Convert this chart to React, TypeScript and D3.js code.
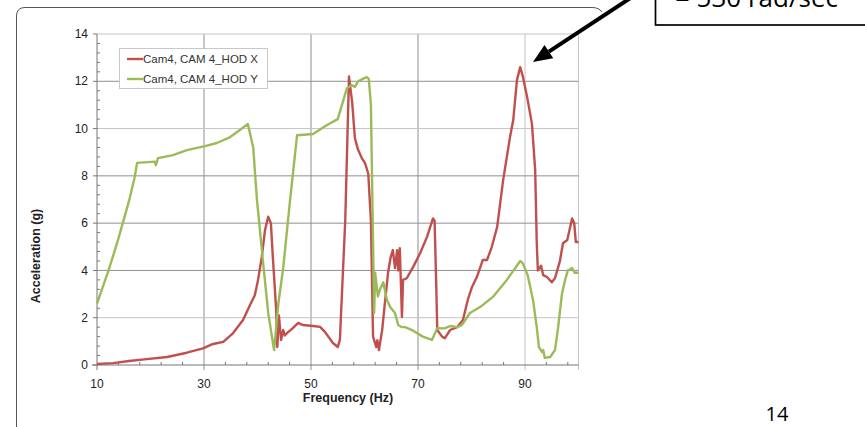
import React from 'react';
import * as d3 from 'd3';

// HOD X (red) - frequency (Hz) / acceleration (g)
const freqX = [10, 13, 16, 19.3, 23.1, 26.8, 29.8, 31.7, 33.6, 35.4, 37.3, 38.6, 39.5, 40.1, 40.8, 41.4, 42, 42.5, 42.9, 43.5, 43.7, 44, 44.4, 44.8, 45.1, 45.5, 46.6, 47.6, 48.5, 50.4, 51.7, 52.6, 54.1, 55, 55.4, 56, 56.4, 57.1, 57.7, 58.2, 58.8, 59.5, 60.1, 60.7, 61.2, 61.6, 62.2, 62.4, 62.7, 63.3, 63.8, 64.4, 64.9, 65.3, 65.7, 66.1, 66.3, 66.6, 67, 67.2, 67.9, 69.1, 70.4, 71.7, 72.8, 73.1, 73.4, 73.6, 74.5, 75, 76, 77.3, 78.4, 79.3, 80.1, 81, 82.1, 82.9, 83.8, 84.8, 85.9, 87.2, 87.8, 88.5, 89.1, 89.6, 90.4, 91.3, 91.9, 92.2, 92.4, 93, 93.4, 94.1, 95, 95.6, 96.5, 97.1, 97.9, 98.8, 99.2, 99.5, 100];
const accX = [0.04, 0.08, 0.17, 0.25, 0.34, 0.52, 0.7, 0.89, 0.98, 1.34, 1.9, 2.54, 2.95, 3.6, 4.57, 5.7, 6.27, 6.0, 4.44, 2.3, 0.76, 2.1, 1.06, 1.48, 1.25, 1.35, 1.56, 1.78, 1.69, 1.65, 1.61, 1.4, 0.93, 0.76, 1.06, 4.1, 6.1, 12.2, 11.1, 9.6, 9.1, 8.75, 8.54, 8.1, 6.1, 1.2, 0.76, 1.05, 0.63, 1.48, 2.6, 3.9, 4.57, 4.86, 4.1, 4.86, 4.0, 4.94, 2.03, 3.6, 3.67, 4.15, 4.73, 5.43, 6.2, 6.1, 3.46, 1.48, 1.2, 1.13, 1.48, 1.6, 1.9, 2.75, 3.3, 3.72, 4.44, 4.44, 5.0, 5.84, 7.8, 9.64, 10.36, 12.05, 12.6, 12.2, 11.33, 10.2, 8.25, 5.15, 4.0, 4.2, 3.8, 3.72, 3.5, 3.67, 4.37, 5.15, 5.29, 6.2, 6.0, 5.2, 5.2];

// HOD Y (green)
const freqY = [10, 11, 12, 13, 14, 15, 16, 17, 17.5, 20.8, 21, 21.4, 24.2, 26.8, 30.2, 32.4, 34.9, 36.7, 38.2, 39.2, 39.9, 41, 42, 43.1, 43.9, 44.8, 46.1, 47.4, 50.4, 53, 55, 56.7, 57.6, 58.2, 58.8, 59.7, 60.4, 60.8, 61.2, 61.8, 62, 62.5, 62.9, 63.5, 64.2, 64.8, 65.7, 66.3, 67, 67.6, 69.1, 70.9, 72.6, 73.2, 73.6, 75, 76, 77.3, 78.2, 79.7, 81.6, 84, 86.6, 87.8, 89.1, 89.6, 90.5, 91.5, 92.2, 92.6, 93.2, 93.4, 93.7, 94.7, 95.6, 96.2, 96.9, 97.5, 98, 98.8, 99.3, 100];
const accY = [2.6, 3.25, 3.9, 4.6, 5.35, 6.15, 6.95, 7.9, 8.55, 8.6, 8.45, 8.75, 8.88, 9.09, 9.26, 9.39, 9.64, 9.94, 10.19, 9.2, 6.98, 4.44, 2.2, 0.63, 2.6, 4.1, 7.0, 9.72, 9.77, 10.15, 10.4, 11.7, 11.84, 11.76, 12.0, 12.1, 12.18, 12.1, 11.0, 2.2, 3.9, 2.9, 3.2, 3.5, 2.75, 2.45, 2.2, 1.69, 1.6, 1.6, 1.45, 1.2, 1.06, 1.35, 1.56, 1.55, 1.65, 1.6, 1.69, 2.2, 2.45, 2.88, 3.6, 3.98, 4.4, 4.3, 3.8, 2.75, 1.6, 0.76, 0.55, 0.63, 0.3, 0.34, 0.63, 1.6, 3.0, 3.6, 4.0, 4.1, 3.9, 3.9];

const seriesNames = ['Cam4, CAM 4_HOD X', 'Cam4, CAM 4_HOD Y'];
const seriesColors = ['#c0504d', '#9bbb59'];
const xTicks = [10, 30, 50, 70, 90];
const yTicks = [0, 2, 4, 6, 8, 10, 12, 14];

const font = '"Liberation Sans", Arial, sans-serif';

const App = () => {
  const x = d3.scaleLinear().domain([10, 100]).range([97, 578.5]);
  const y = d3.scaleLinear().domain([0, 14]).range([365, 34]);

  const line = d3.line<[number, number]>()
    .x(d => x(d[0]))
    .y(d => y(d[1]));

  const series = [
    freqX.map((f, i) => [f, accX[i]] as [number, number]),
    freqY.map((f, i) => [f, accY[i]] as [number, number]),
  ];

  const xMinor = d3.range(10, 100.1, 4).filter(v => !xTicks.includes(v));
  const yMinor = d3.range(0, 14.01, 0.4).filter(v => Math.abs(v / 2 - Math.round(v / 2)) > 0.01);

  // arrow pointing at the 89 Hz peak
  const tail = [632, -3], tip = [533, 62];
  const dx = tip[0] - tail[0], dy = tip[1] - tail[1];
  const len = Math.hypot(dx, dy);
  const ux = dx / len, uy = dy / len;
  const bx = tip[0] - 19 * ux, by = tip[1] - 19 * uy;
  const head = [
    [tip[0], tip[1]],
    [bx - 8 * uy, by + 8 * ux],
    [bx + 8 * uy, by - 8 * ux],
  ].map(p => p.join(',')).join(' ');

  return (
    <svg width={865} height={427} style={{ position: 'absolute', left: 0, top: 0, background: '#fff' }}>
      {/* slide frame */}
      <path d="M16.5,427 L16.5,16 Q16.5,7.5 25,7.5 L592,7.5 Q599,7.5 602,12" fill="none" stroke="#555" strokeWidth={1} />

      {/* grid */}
      <g stroke="#8f8f8f" strokeWidth={1}>
        {[30, 50, 70, 90, 100].map(v => (
          <line key={'gx' + v} x1={x(v)} x2={x(v)} y1={y(14)} y2={y(0) + 5} stroke={v >= 90 ? '#c4c4c4' : '#8f8f8f'} />
        ))}
        {yTicks.slice(1).map(v => (
          <line key={'gy' + v} x1={x(10)} x2={x(100)} y1={y(v)} y2={y(v)} stroke={v === 14 || v === 10 || v === 2 ? '#c4c4c4' : '#8f8f8f'} />
        ))}
      </g>

      {/* axes */}
      <g stroke="#777" strokeWidth={1}>
        <line x1={x(10)} x2={x(10)} y1={y(14)} y2={y(0) + 5} />
        <line x1={x(10) - 5} x2={x(100)} y1={y(0)} y2={y(0)} />
        {yTicks.map(v => <line key={'ty' + v} x1={x(10) - 4} x2={x(10)} y1={y(v)} y2={y(v)} />)}
        {yMinor.map(v => <line key={'my' + v} x1={x(10)} x2={x(10) + 3} y1={y(v)} y2={y(v)} />)}
        {xMinor.map(v => <line key={'mx' + v} x1={x(v)} x2={x(v)} y1={y(0)} y2={y(0) - 3} />)}
      </g>

      <g fontFamily={font} fontSize={12} fill="#222">
        {yTicks.map(v => (
          <text key={'ly' + v} x={x(10) - 9} y={y(v)} dy="0.35em" textAnchor="end">{v}</text>
        ))}
        {xTicks.map(v => (
          <text key={'lx' + v} x={x(v)} y={y(0) + 19} dy="0.35em" textAnchor="middle">{v}</text>
        ))}
      </g>

      <text x={348} y={402} fontFamily={font} fontSize={12.5} fontWeight="bold" textAnchor="middle" fill="#222">Frequency (Hz)</text>
      <text transform="translate(40,256) rotate(-90)" fontFamily={font} fontSize={12.5} fontWeight="bold" textAnchor="middle" fill="#222">Acceleration (g)</text>

      {/* series */}
      {series.map((s, i) => (
        <path key={'s' + i} d={line(s) || ''} fill="none" stroke={seriesColors[i]} strokeWidth={2.4} strokeLinejoin="round" />
      ))}

      {/* legend */}
      <rect x={119.5} y={48.5} width={148} height={40} fill="#fff" stroke="#c8c8c8" />
      {seriesNames.map((n, i) => (
        <g key={'lg' + i}>
          <line x1={127} x2={143} y1={59 + i * 20} y2={59 + i * 20} stroke={seriesColors[i]} strokeWidth={2.4} />
          <text x={143} y={59 + i * 20} dy="0.35em" fontFamily={font} fontSize={11.5} fill="#333">{n}</text>
        </g>
      ))}

      {/* annotation */}
      <rect x={655.5} y={-20} width={260} height={45} fill="#fff" stroke="#000" strokeWidth={1.7} />
      <text x={675} y={7} fontFamily='"Open Sans", sans-serif' fontSize={26} fill="#000">= 530 rad/sec</text>
      <line x1={tail[0]} y1={tail[1]} x2={bx} y2={by} stroke="#000" strokeWidth={4} />
      <polygon points={head} fill="#000" />

      <text x={777} y={421} fontFamily='"Open Sans", sans-serif' fontSize={20} textAnchor="middle" fill="#000">14</text>
    </svg>
  );
};

export default App;
